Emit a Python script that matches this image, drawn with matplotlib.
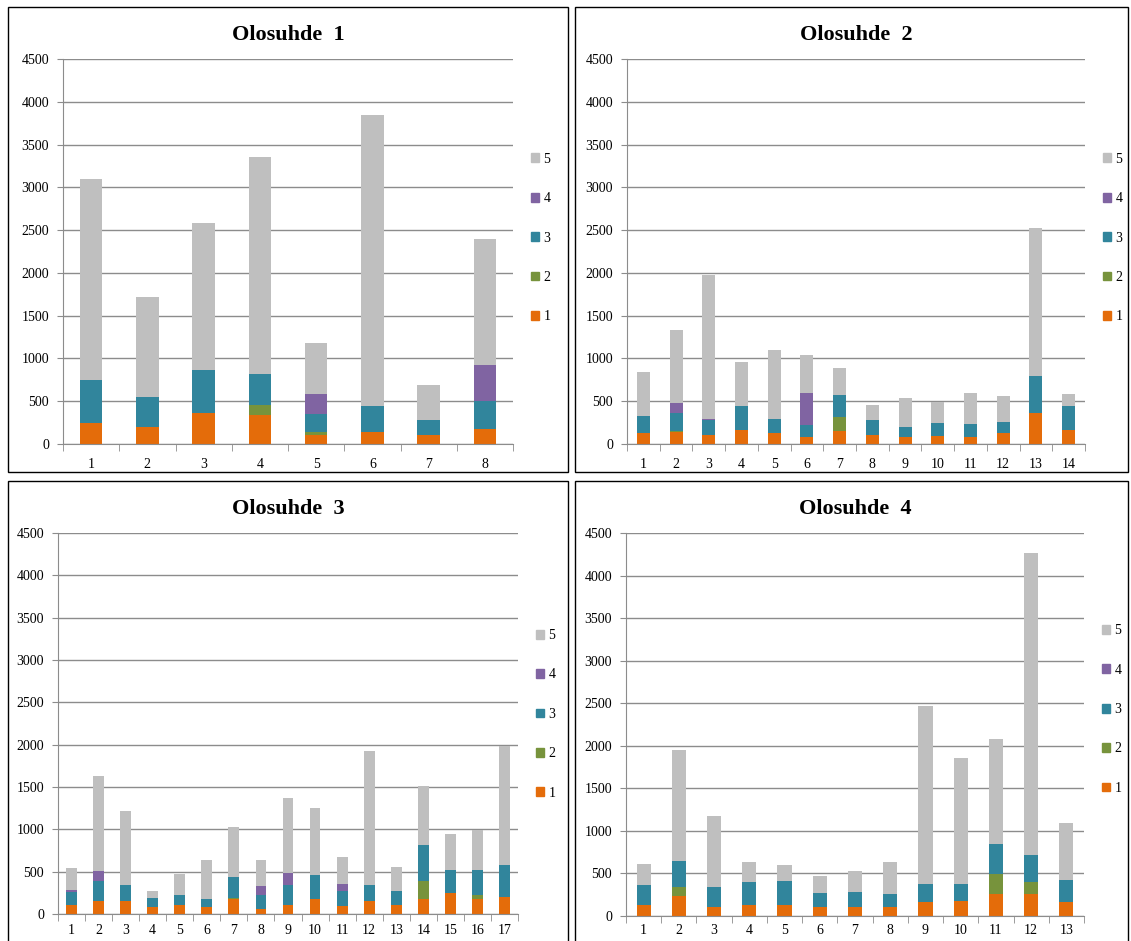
import matplotlib
matplotlib.use("Agg")
import matplotlib.pyplot as plt
import numpy as np
from matplotlib.patches import Patch, Rectangle

plt.rcParams['font.family'] = ['Liberation Serif', 'DejaVu Serif']

series_labels = ["1", "2", "3", "4", "5"]
series_colors = ["#E46C0A", "#77933C", "#31859C", "#8064A2", "#BFBFBF"]

# Olosuhde 1
o1_s1 = [240, 200, 360, 335, 110, 135, 100, 175]
o1_s2 = [0, 0, 0, 125, 25, 0, 0, 0]
o1_s3 = [510, 355, 500, 360, 210, 305, 175, 325]
o1_s4 = [0, 0, 0, 0, 240, 0, 0, 420]
o1_s5 = [2350, 1160, 1725, 2535, 595, 3400, 420, 1475]

# Olosuhde 2
o2_s1 = [125, 135, 105, 165, 125, 85, 150, 110, 85, 95, 85, 125, 360, 165]
o2_s2 = [0, 12, 0, 0, 0, 0, 170, 0, 0, 0, 0, 0, 0, 0]
o2_s3 = [205, 220, 180, 285, 170, 140, 250, 165, 115, 145, 145, 130, 430, 275]
o2_s4 = [0, 110, 12, 0, 0, 370, 0, 0, 0, 0, 0, 0, 0, 0]
o2_s5 = [510, 860, 1680, 505, 805, 445, 320, 185, 340, 255, 365, 310, 1735, 150]

# Olosuhde 3
o3_s1 = [110, 150, 150, 85, 105, 85, 180, 60, 110, 175, 100, 150, 110, 175, 245, 175, 200]
o3_s2 = [0, 0, 0, 0, 0, 0, 12, 0, 0, 0, 0, 0, 0, 220, 0, 50, 0]
o3_s3 = [155, 235, 195, 105, 125, 95, 250, 170, 235, 290, 170, 195, 160, 425, 275, 290, 380]
o3_s4 = [20, 120, 0, 0, 0, 0, 0, 105, 140, 0, 80, 0, 0, 0, 0, 0, 0]
o3_s5 = [260, 1120, 870, 80, 245, 460, 580, 305, 890, 790, 325, 1580, 285, 695, 430, 480, 1400]

# Olosuhde 4
o4_s1 = [125, 230, 110, 135, 135, 110, 100, 100, 165, 175, 255, 255, 165]
o4_s2 = [0, 105, 0, 0, 0, 0, 0, 0, 0, 0, 240, 145, 0]
o4_s3 = [240, 310, 225, 260, 280, 160, 180, 160, 210, 200, 355, 315, 260]
o4_s4 = [0, 0, 0, 0, 0, 0, 0, 0, 0, 0, 0, 0, 0]
o4_s5 = [245, 1310, 835, 240, 185, 205, 250, 380, 2095, 1480, 1230, 3555, 670]

panels = [
    ("Olosuhde  1", [o1_s1, o1_s2, o1_s3, o1_s4, o1_s5]),
    ("Olosuhde  2", [o2_s1, o2_s2, o2_s3, o2_s4, o2_s5]),
    ("Olosuhde  3", [o3_s1, o3_s2, o3_s3, o3_s4, o3_s5]),
    ("Olosuhde  4", [o4_s1, o4_s2, o4_s3, o4_s4, o4_s5]),
]

W, H = 1131, 941
# axes boxes in pixels: left, top, right, bottom ; legend centre in axes fraction ; label pad
ax_boxes = [(63, 59, 513, 444, 0.535, 10), (627, 59, 1085, 444, 0.535, 10),
            (58, 533, 518, 914, 0.524, 7), (626, 533, 1084, 916, 0.539, 6)]
# panel frames in pixels: left, top, right, bottom
frames = [(8, 7, 568, 472), (575, 7, 1128, 472),
          (8, 481, 568, 960), (575, 481, 1128, 960)]

grid_c = "#8C8C8C"

fig = plt.figure(figsize=(W / 100, H / 100), dpi=100)

for (l, t, r, b, leg_y, xpad), (title, series) in zip(ax_boxes, panels):
    ax = fig.add_axes([l / W, 1 - b / H, (r - l) / W, (b - t) / H])
    n = len(series[0])
    x = np.arange(1, n + 1)
    bottom = np.zeros(n)
    for lab, col, vals in zip(series_labels, series_colors, series):
        vals = np.array(vals, dtype=float)
        ax.bar(x, vals, 0.4, bottom=bottom, color=col, label=lab, linewidth=0)
        bottom += vals

    ax.set_xlim(0.5, n + 0.5)
    ax.set_ylim(0, 4500)
    ax.set_yticks(np.arange(0, 4501, 500))
    ax.yaxis.grid(True, color=grid_c, linewidth=1)
    ax.set_axisbelow(True)
    for s in ("top", "right"):
        ax.spines[s].set_visible(False)
    for s in ("left", "bottom"):
        ax.spines[s].set_color(grid_c)
    ax.set_xticks(x)
    ax.set_xticklabels([str(i) for i in x])
    ax.set_xticks(np.arange(0.5, n + 1), minor=True)
    ax.tick_params(axis="x", which="major", length=0, labelsize=10, pad=xpad)
    ax.tick_params(axis="x", which="minor", length=5, color=grid_c)
    ax.tick_params(axis="y", length=4, color=grid_c, labelsize=10, pad=6)

    ax.set_title(title, fontsize=16, fontweight="bold", pad=14)

    handles = [Patch(color=c, label=lab) for lab, c in zip(series_labels, series_colors)]
    ax.legend(handles=handles[::-1], loc="center left",
              bbox_to_anchor=(1 + 18 / (r - l), leg_y), frameon=False,
              fontsize=10, labelspacing=1.9, handlelength=0.6, handleheight=0.6,
              handletextpad=0.3, borderpad=0, borderaxespad=0)

for (l, t, r, b) in frames:
    fig.add_artist(Rectangle((l / W, 1 - b / H), (r - l) / W, (b - t) / H,
                             transform=fig.transFigure, fill=False,
                             edgecolor="black", linewidth=1))

fig.savefig("out.png", dpi=100)
